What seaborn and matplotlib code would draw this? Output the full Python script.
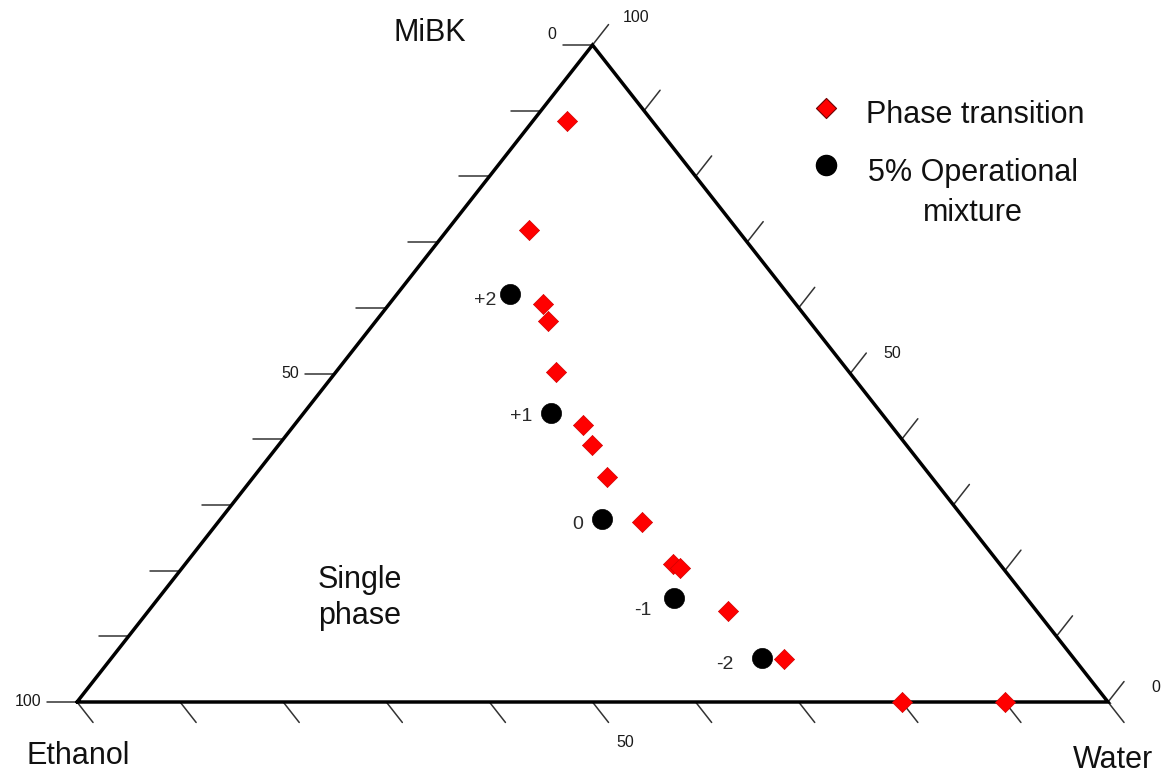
import matplotlib
matplotlib.use("Agg")
import matplotlib.pyplot as plt
import seaborn as sns
import numpy as np
import pandas as pd

# ---------------- data (ternary, percent) ----------------
transition_mibk = [88.4, 71.8, 60.6, 58.0, 50.2, 42.2, 39.1, 34.2, 27.4, 21.0, 20.4, 13.9, 6.5, 0.0, 0.0]
transition_water = [3.3, 7.9, 14.9, 16.7, 21.4, 28.0, 30.4, 34.3, 41.1, 47.3, 48.3, 56.2, 65.3, 80.0, 90.0]

operational_mibk = [62.1, 44.0, 27.9, 15.8, 6.7]
operational_water = [10.9, 24.0, 37.0, 50.0, 63.1]
operational_labels = ["+2", "+1", "0", "-1", "-2"]

tick_values = list(range(0, 101, 10))
left_tick_labels = {0: "100", 50: "50", 100: "0"}     # keyed by MiBK on left edge
right_tick_labels = {100: "100", 50: "50", 0: "0"}    # keyed by MiBK on right edge
bottom_tick_labels = {50: "50"}                        # keyed by Water on bottom edge

# ---------------- figure setup ----------------
W, H = 1163, 776
sns.set_theme(style="white")
plt.rcParams["font.family"] = ["Liberation Sans", "DejaVu Sans"]

fig = plt.figure(figsize=(W / 100, H / 100), dpi=100)
# triangle pixel frame: left-bottom (77,702), right-bottom (1108,702), top (593,45)
x0, x1, ytop, ybot = 77, 1108, 45, 702
ax = fig.add_axes([x0 / W, (H - ybot) / H, (x1 - x0) / W, (ybot - ytop) / H])
ax.set_xlim(0, 1)
ax.set_ylim(0, 1)
ax.axis("off")

PX = 1.0 / (x1 - x0)   # data units per pixel (x)
PY = 1.0 / (ybot - ytop)  # data units per pixel (y)


def tern(m, w):
    m = np.asarray(m, float) / 100.0
    w = np.asarray(w, float) / 100.0
    return w + m / 2.0, m


# triangle outline
ax.plot([0, 0.5, 1, 0], [0, 1, 0, 0], color="black", lw=2.5, solid_joinstyle="miter",
        clip_on=False, zorder=3)

tick_kw = dict(color="#333333", lw=1.1, clip_on=False, zorder=2)
tk_len = 26
d_up = np.array([0.617, 0.787])     # direction parallel to left edge (pixel, y up)
d_down = np.array([0.617, -0.787])  # direction parallel to right edge

txt_tick = dict(fontsize=11.5, color="#1a1a1a", clip_on=False)

for v in tick_values:
    # left edge (w = 0): horizontal ticks
    x, y = tern(v, 0)
    ax.plot([x, x - 30 * PX], [y, y], **tick_kw)
    if v in left_tick_labels:
        dy = 10 if v == 100 else 0
        ax.text(x - 36 * PX, y + dy * PY, left_tick_labels[v], ha="right", va="center", **txt_tick)
    # right edge (ethanol = 0)
    x, y = tern(v, 100 - v)
    ex, ey = x + d_up[0] * tk_len * PX, y + d_up[1] * tk_len * PY
    ax.plot([x, ex], [y, ey], **tick_kw)
    if v in right_tick_labels:
        off = {100: (14, 7), 50: (17, 0), 0: (27, -6)}[v]
        ax.text(ex + off[0] * PX, ey + off[1] * PY, right_tick_labels[v], ha="left", va="center", **txt_tick)
    # bottom edge (m = 0)
    x, y = tern(0, v)
    ex, ey = x + d_down[0] * tk_len * PX, y + d_down[1] * tk_len * PY
    ax.plot([x, ex], [y, ey], **tick_kw)
    if v in bottom_tick_labels:
        ax.text(ex + 17 * PX, ey - 20 * PY, bottom_tick_labels[v], ha="center", va="center", **txt_tick)

# ---------------- data marks ----------------
tx, ty = tern(transition_mibk, transition_water)
ox, oy = tern(operational_mibk, operational_water)
df_t = pd.DataFrame({"x": tx, "y": ty})
df_o = pd.DataFrame({"x": ox, "y": oy, "label": operational_labels})

sns.scatterplot(data=df_t, x="x", y="y", marker="D", s=105, color="#ff0000",
                edgecolor="#d00000", linewidth=0.5, ax=ax, zorder=5, clip_on=False, legend=False)
sns.scatterplot(data=df_o, x="x", y="y", marker="o", s=210, color="black",
                edgecolor="black", linewidth=0.5, ax=ax, zorder=5, clip_on=False, legend=False)
ax.set_xlim(0, 1)
ax.set_ylim(0, 1)
ax.axis("off")

label_offsets = [(-13, -6), (-19, -4), (-19, -6), (-22, -12), (-29, -7)]
for (xx, yy, lab), (dx, dy) in zip(zip(ox, oy, operational_labels), label_offsets):
    ax.text(xx + dx * PX, yy + dy * PY, lab, ha="right", va="center", fontsize=14, color="#2a2a2a")

# ---------------- text labels ----------------
def fpos(px, py):
    return px / W, 1 - py / H

big = dict(fontsize=22, color="#111111")
fig.text(*fpos(430, 33), "MiBK", ha="center", va="center", **big)
fig.text(*fpos(78, 756), "Ethanol", ha="center", va="center", **big)
fig.text(*fpos(1073, 760), "Water", ha="left", va="center", **big)
fig.text(*fpos(360, 598), "Single\nphase", ha="center", va="center", linespacing=1.25, **big)

# legend (manual)
fig.text(*fpos(866, 115), "Phase transition", ha="left", va="center", **big)
fig.text(*fpos(973, 193), "5% Operational\nmixture", ha="center", va="center",
         multialignment="center", linespacing=1.4, **big)
lax = fig.add_axes([0, 0, 1, 1], facecolor="none")
lax.set_xlim(0, W)
lax.set_ylim(H, 0)
lax.axis("off")
lax.scatter([826], [108], marker="D", s=105, color="#ff0000", edgecolor="#700000", linewidth=0.8)
lax.scatter([826], [165], marker="o", s=210, color="black")

fig.savefig("out.png", dpi=100)
